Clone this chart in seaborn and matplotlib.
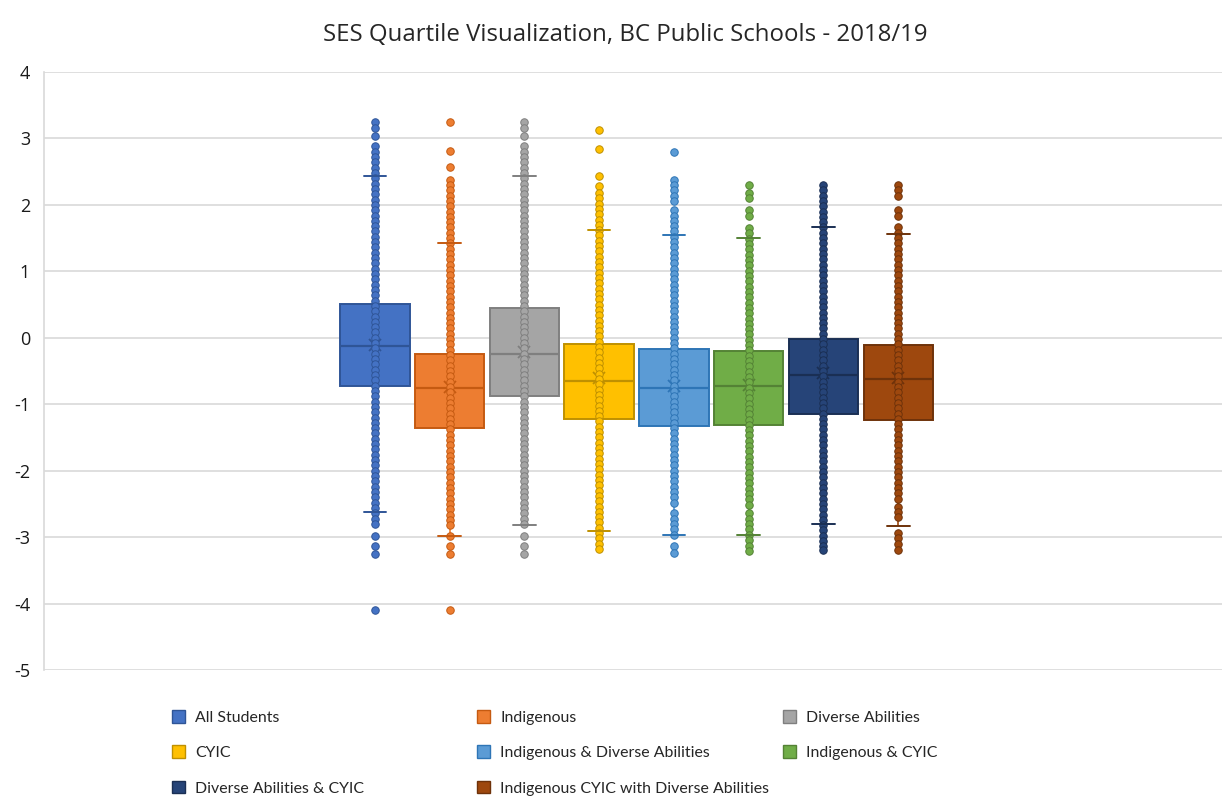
import numpy as np
import pandas as pd
import matplotlib
matplotlib.use("Agg")
import matplotlib.pyplot as plt
import seaborn as sns
from matplotlib.patches import Patch

# ---------------- data ----------------
groups = ["All Students", "Indigenous", "Diverse Abilities", "CYIC",
          "Indigenous & Diverse Abilities", "Indigenous & CYIC",
          "Diverse Abilities & CYIC", "Indigenous CYIC with Diverse Abilities"]

fill_colors = ["#4472C4", "#ED7D31", "#A5A5A5", "#FFC000",
               "#5B9BD5", "#70AD47", "#264478", "#9E480E"]
edge_colors = ["#2F5597", "#C55A11", "#7F7F7F", "#BF9000",
               "#2E75B6", "#548235", "#1A2F54", "#6E320A"]

whisker_low = [-2.62, -2.98, -2.82, -2.91, -2.97, -2.97, -2.80, -2.84]
q1 = [-0.73, -1.36, -0.87, -1.22, -1.33, -1.32, -1.14, -1.23]
median = [-0.13, -0.76, -0.24, -0.65, -0.76, -0.73, -0.56, -0.62]
q3 = [0.51, -0.24, 0.45, -0.09, -0.17, -0.20, -0.015, -0.105]
whisker_high = [2.43, 1.42, 2.43, 1.62, 1.54, 1.50, 1.67, 1.56]
means = [-0.11, -0.74, -0.21, -0.61, -0.73, -0.71, -0.53, -0.60]

pts_all = [3.25, 3.15, 3.04, 2.88, 2.80, 2.72, 2.64, 2.56, 2.48, 2.40, 2.32, 2.24, 2.16,
           2.08, 2.00, 1.92, 1.84, 1.76, 1.68, 1.60, 1.52, 1.44, 1.36, 1.28, 1.20, 1.12,
           1.04, 0.96, 0.88, 0.80, 0.72, 0.64, 0.56, 0.48, 0.40, 0.32, 0.24, 0.16, 0.08,
           0.00, -0.08, -0.16, -0.24, -0.32, -0.40, -0.48, -0.56, -0.64, -0.72, -0.80,
           -0.88, -0.96, -1.04, -1.12, -1.20, -1.28, -1.36, -1.44, -1.52, -1.60, -1.68,
           -1.76, -1.84, -1.92, -2.00, -2.08, -2.16, -2.24, -2.32, -2.40, -2.48, -2.56,
           -2.64, -2.72, -2.80, -2.98, -3.14, -3.25, -4.09]
pts_indigenous = [3.25, 2.81, 2.57, 2.38, 2.30, 2.22, 2.14, 2.06, 1.98, 1.90, 1.82, 1.74,
                  1.66, 1.58, 1.50, 1.42, 1.34, 1.26, 1.18, 1.10, 1.02, 0.94, 0.86, 0.78,
                  0.70, 0.62, 0.54, 0.46, 0.38, 0.30, 0.22, 0.14, 0.06, -0.02, -0.10,
                  -0.18, -0.26, -0.34, -0.42, -0.50, -0.58, -0.66, -0.74, -0.82, -0.90,
                  -0.98, -1.06, -1.14, -1.22, -1.30, -1.38, -1.46, -1.54, -1.62, -1.70,
                  -1.78, -1.86, -1.94, -2.02, -2.10, -2.18, -2.26, -2.34, -2.42, -2.50,
                  -2.58, -2.66, -2.74, -2.82, -2.98, -3.14, -3.25, -4.09]
pts_diverse = [3.25, 3.15, 3.04, 2.88, 2.80, 2.72, 2.64, 2.56, 2.48, 2.40, 2.32, 2.24, 2.16,
               2.08, 2.00, 1.92, 1.84, 1.76, 1.68, 1.60, 1.52, 1.44, 1.36, 1.28, 1.20, 1.12,
               1.04, 0.96, 0.88, 0.80, 0.72, 0.64, 0.56, 0.48, 0.40, 0.32, 0.24, 0.16, 0.08,
               0.00, -0.08, -0.16, -0.24, -0.32, -0.40, -0.48, -0.56, -0.64, -0.72, -0.80,
               -0.88, -0.96, -1.04, -1.12, -1.20, -1.28, -1.36, -1.44, -1.52, -1.60, -1.68,
               -1.76, -1.84, -1.92, -2.00, -2.08, -2.16, -2.24, -2.32, -2.40, -2.48, -2.56,
               -2.64, -2.72, -2.80, -2.98, -3.14, -3.25]
pts_cyic = [3.13, 2.84, 2.43, 2.29, 2.18, 2.10, 2.02, 1.94, 1.86, 1.78, 1.70, 1.62, 1.54,
            1.46, 1.38, 1.30, 1.22, 1.14, 1.06, 0.98, 0.90, 0.82, 0.74, 0.66, 0.58, 0.50,
            0.42, 0.34, 0.26, 0.18, 0.10, 0.02, -0.06, -0.14, -0.22, -0.30, -0.38, -0.46,
            -0.54, -0.62, -0.70, -0.78, -0.86, -0.94, -1.02, -1.10, -1.18, -1.26, -1.34,
            -1.42, -1.50, -1.58, -1.66, -1.74, -1.82, -1.90, -1.98, -2.06, -2.14, -2.22,
            -2.30, -2.38, -2.46, -2.54, -2.62, -2.70, -2.78, -2.86, -2.94, -3.02, -3.10,
            -3.18]
pts_ind_da = [2.80, 2.38, 2.30, 2.22, 2.14, 2.06, 1.92, 1.84, 1.76, 1.68, 1.60, 1.52, 1.44,
              1.36, 1.28, 1.20, 1.12, 1.04, 0.96, 0.88, 0.80, 0.72, 0.64, 0.56, 0.48, 0.40,
              0.32, 0.24, 0.16, 0.08, 0.00, -0.08, -0.16, -0.24, -0.32, -0.40, -0.48, -0.56,
              -0.64, -0.72, -0.80, -0.88, -0.96, -1.04, -1.12, -1.20, -1.28, -1.36, -1.44,
              -1.52, -1.60, -1.68, -1.76, -1.84, -1.92, -2.00, -2.08, -2.16, -2.24, -2.32,
              -2.40, -2.48, -2.64, -2.72, -2.80, -2.88, -2.97, -3.14, -3.24]
pts_ind_cyic = [2.30, 2.18, 2.10, 1.92, 1.84, 1.65, 1.57, 1.49, 1.41, 1.33, 1.25, 1.17,
                1.09, 1.01, 0.93, 0.85, 0.77, 0.69, 0.61, 0.53, 0.45, 0.37, 0.29, 0.21,
                0.13, 0.05, -0.03, -0.11, -0.19, -0.27, -0.35, -0.43, -0.51, -0.59, -0.67,
                -0.75, -0.83, -0.91, -0.99, -1.07, -1.15, -1.23, -1.31, -1.39, -1.47, -1.55,
                -1.63, -1.71, -1.79, -1.87, -1.95, -2.03, -2.11, -2.19, -2.27, -2.35, -2.43,
                -2.51, -2.63, -2.72, -2.80, -2.88, -2.97, -3.05, -3.13, -3.21]
pts_da_cyic = [2.30, 2.22, 2.14, 2.06, 1.98, 1.90, 1.82, 1.74, 1.66, 1.58, 1.50, 1.42,
               1.34, 1.26, 1.18, 1.10, 1.02, 0.94, 0.86, 0.78, 0.70, 0.62, 0.54, 0.46,
               0.38, 0.30, 0.22, 0.14, 0.06, -0.02, -0.10, -0.18, -0.26, -0.34, -0.42,
               -0.50, -0.58, -0.66, -0.74, -0.82, -0.90, -0.98, -1.06, -1.14, -1.22, -1.30,
               -1.38, -1.46, -1.54, -1.62, -1.70, -1.78, -1.86, -1.94, -2.02, -2.10, -2.18,
               -2.26, -2.34, -2.42, -2.50, -2.58, -2.66, -2.74, -2.82, -2.90, -2.98, -3.06,
               -3.14, -3.20]
pts_ind_cyic_da = [2.30, 2.22, 2.14, 1.92, 1.84, 1.66, 1.58, 1.50, 1.42, 1.34, 1.26, 1.18,
                   1.10, 1.02, 0.94, 0.86, 0.78, 0.70, 0.62, 0.54, 0.46, 0.38, 0.30, 0.22,
                   0.14, 0.06, -0.02, -0.10, -0.18, -0.26, -0.34, -0.42, -0.50, -0.58,
                   -0.66, -0.74, -0.82, -0.90, -0.98, -1.06, -1.14, -1.22, -1.30, -1.38,
                   -1.46, -1.54, -1.62, -1.70, -1.78, -1.86, -1.94, -2.02, -2.10, -2.18,
                   -2.26, -2.34, -2.42, -2.54, -2.62, -2.70, -2.94, -3.02, -3.10, -3.20]

points = [pts_all, pts_indigenous, pts_diverse, pts_cyic,
          pts_ind_da, pts_ind_cyic, pts_da_cyic, pts_ind_cyic_da]

y_ticks = [-5, -4, -3, -2, -1, 0, 1, 2, 3, 4]
title = "SES Quartile Visualization, BC Public Schools - 2018/19"

# ---------------- figure ----------------
sns.set_theme(style="white")
plt.rcParams["font.family"] = ["Open Sans", "DejaVu Sans"]

fig = plt.figure(figsize=(12.25, 7.99), dpi=100)
ax = fig.add_axes([44 / 1225, 1 - 670 / 799, (1222 - 44) / 1225, (670 - 72) / 799])

for i, g in enumerate(groups):
    summary = pd.DataFrame({
        "group": [g] * 5,
        "value": [whisker_low[i], q1[i], median[i], q3[i], whisker_high[i]],
    })
    n_before = len(ax.lines)
    sns.boxplot(data=summary, x="group", y="value", order=groups,
                color=fill_colors[i], saturation=1, width=0.93,
                whis=(0, 100), linecolor=edge_colors[i], linewidth=1.4,
                showfliers=False,
                medianprops={"color": edge_colors[i], "linewidth": 1.6},
                whiskerprops={"color": fill_colors[i], "linewidth": 1.2},
                capprops={"color": edge_colors[i], "linewidth": 1.4},
                ax=ax, zorder=2)
    # narrow the whisker caps like the reference
    for ln in ax.lines[n_before:]:
        xd = np.asarray(ln.get_xdata(), dtype=float)
        yd = np.asarray(ln.get_ydata(), dtype=float)
        if len(xd) == 2 and yd[0] == yd[1] and (
                np.isclose(yd[0], whisker_low[i]) or np.isclose(yd[0], whisker_high[i])):
            c = xd.mean()
            ln.set_xdata([c - 0.15, c + 0.15])
            ln.set_zorder(4)

    dots = pd.DataFrame({"group": [g] * len(points[i]), "value": points[i]})
    sns.stripplot(data=dots, x="group", y="value", order=groups, jitter=False,
                  color=fill_colors[i], edgecolor=edge_colors[i], linewidth=0.7,
                  size=5.4, ax=ax, zorder=3)

    mean_df = pd.DataFrame({"group": [g], "value": [means[i]]})
    sns.pointplot(data=mean_df, x="group", y="value", order=groups,
                  color=edge_colors[i], markers="x", linestyles="none",
                  errorbar=None, markersize=8, markeredgewidth=1.3, ax=ax)

n = len(groups)
shift = 0.047
ax.set_xlim(3.5 - 7.875 - shift, 3.5 + 7.875 - shift)
ax.set_ylim(-5, 4)
ax.set_yticks(y_ticks)
ax.set_yticklabels([str(t) for t in y_ticks], fontsize=13, color="#1a1a1a")
ax.set_xticks([])
ax.set_xlabel("")
ax.set_ylabel("")
ax.grid(axis="y", color="#d9d9d9", linewidth=1.2)
ax.set_axisbelow(True)
for s in ["top", "right", "bottom"]:
    ax.spines[s].set_visible(False)
ax.spines["left"].set_color("#d9d9d9")
ax.spines["left"].set_linewidth(1.2)
ax.tick_params(axis="y", length=0, pad=10)

fig.text(625 / 1225, 1 - 35 / 799, title, ha="center", va="center",
         fontsize=17.3, color="#262626")

# legend: three columns, row-major order like Excel
handles = [Patch(facecolor=fill_colors[i], edgecolor=edge_colors[i], linewidth=1)
           for i in range(n)]
columns = [[0, 3, 6], [1, 4, 7], [2, 5]]
col_x = [172, 477, 783]
for col, x0 in zip(columns, col_x):
    fig.legend([handles[k] for k in col], [groups[k] for k in col],
               loc="upper left", bbox_to_anchor=(x0 / 1225, 1 - 710 / 799),
               frameon=False, borderpad=0, borderaxespad=0,
               handlelength=0.85, handleheight=0.85, handletextpad=0.62,
               labelspacing=1.3, prop={"family": ["Lato", "DejaVu Sans"], "size": 11.4},
               labelcolor="#262626")

fig.savefig("out.png", dpi=100)
